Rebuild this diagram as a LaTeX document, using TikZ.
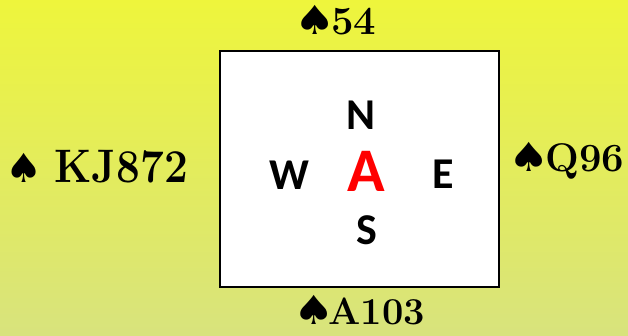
\documentclass[tikz,border=0pt]{standalone}
\usepackage{graphicx}
\usepackage{fontspec}
\newfontfamily\suitfont{DejaVu Sans}
\newfontfamily\seatfont{Carlito}
\definecolor{topyellow}{RGB}{238,245,60}
\definecolor{bottomyellow}{RGB}{216,227,125}
\newcommand{\spd}{{\suitfont\fontsize{40}{40}\selectfont\scalebox{1.15}[1]{♠}}\kern-4pt}

\begin{document}
\begin{tikzpicture}[
    x=1pt, y=1pt,
    hand/.style={font=\fontsize{40}{44}\selectfont\bfseries,
                 inner sep=0pt, anchor=base west},
    seat/.style={font=\seatfont\bfseries\fontsize{44}{48}\selectfont,
                 inner sep=0pt, anchor=base},
]
\shade[top color=topyellow, bottom color=bottomyellow] (0,0) rectangle (628,336);
\useasboundingbox (0,0) rectangle (628,336);

% the table
\node[draw, line width=2pt, fill=white, minimum width=279, minimum height=236,
      inner sep=0pt] (table) at (359.5,167) {};

% seats round the table
\node[seat] (seatN) at (361,206) {N};
\node[seat] (seatW) at (289,146) {W};
\node[seat, red, font=\seatfont\bfseries\fontsize{62}{66}\selectfont] (seatA) at (366,144) {A};
\node[seat] (seatE) at (443,147) {E};
\node[seat] (seatS) at (367,91) {S};

% the four spade holdings
\node[hand] (handN) at (294,301) {\spd54};
\node[hand, font=\fontsize{47}{52}\selectfont\bfseries, xscale=0.9, transform shape]
      (handW) at (5,153) {\spd\ KJ872};
\node[hand] (handE) at (508,164) {\spd Q96};
\node[hand, font=\fontsize{38}{42}\selectfont\bfseries] (handS) at (293,11) {\spd\kern-2pt A103};

\end{tikzpicture}
\end{document}
